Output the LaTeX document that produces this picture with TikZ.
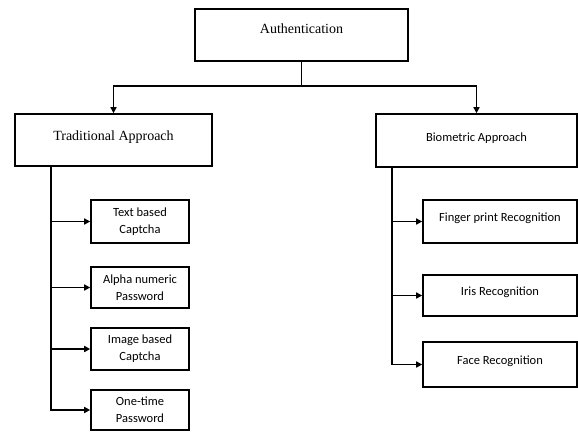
\documentclass[tikz,border=0pt]{standalone}
\usepackage{fontspec}
\setmainfont{Liberation Serif}
\newfontfamily\calib{Carlito}
\usepackage{tikz}
\usetikzlibrary{positioning, arrows.meta}

\begin{document}
\begin{tikzpicture}[x=1pt, y=-1pt]
\tikzstyle{box} = [draw, line width=1.6pt, inner sep=0pt, font=\fontsize{14}{17}\selectfont]
\tikzstyle{leaf} = [draw, line width=1.6pt, inner sep=0pt, align=center, font=\calib\fontsize{12.5}{17}\selectfont]
\tikzstyle{link} = [line width=1.6pt, -{Triangle[length=6pt,width=6pt]}]
\useasboundingbox (0,0) rectangle (578,432);
  \draw
  node (auth) [box, minimum width=213pt, text height=24pt, text depth=28pt] at (301.5,35) {Authentication}
  node (trad) [box, minimum width=197pt, text height=26pt, text depth=26pt] at (113.5,140) {Traditional Approach}
  node (bio) [box, font=\calib\fontsize{12.5}{17}\selectfont, minimum width=201pt, text height=27pt, text depth=26pt] at (476.5,140.5) {Biometric Approach};

  % left branch
  \node (txt) [leaf, minimum width=98pt, minimum height=43pt] at (140,221.5) {Text based\\Captcha};
  \node (alpha) [leaf, minimum width=98pt, minimum height=41pt] at (140,287.5) {Alpha numeric\\Password};
  \node (img) [leaf, minimum width=98pt, minimum height=42pt] at (140,349) {Image based\\Captcha};
  \node (otp) [leaf, minimum width=98pt, minimum height=40pt] at (140,410) {One-time\\Password};

  % right branch
  \node (fing) [leaf, minimum width=154pt, text height=21.5pt, text depth=21.5pt] at (500,221.5) {Finger print Recognition};
  \node (iris) [leaf, minimum width=154pt, text height=20.5pt, text depth=20.5pt] at (500,295.5) {Iris Recognition};
  \node (face) [leaf, minimum width=154pt, text height=22.5pt, text depth=22.5pt] at (500,364.5) {Face Recognition};

  \draw [line width=1.6pt] (auth.south) -- ++(0,24) coordinate (split);
  \draw [link] (split) -| (trad.north);
  \draw [link] (split) -| (bio.north);
  \foreach \c in {txt,alpha,img,otp}
    \draw [link] ([xshift=37pt]trad.south west) |- (\c.west);
  \foreach \c in {fing,iris,face}
    \draw [link] ([xshift=17pt]bio.south west) |- (\c.west);
\end{tikzpicture}
\end{document}
